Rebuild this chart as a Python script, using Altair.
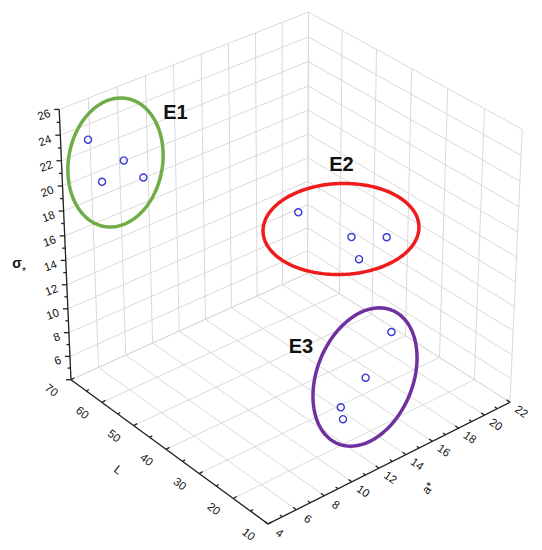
import numpy as np
import pandas as pd
import altair as alt

# ---------------- data ----------------
groups = ["E1"] * 4 + ["E2"] * 4 + ["E3"] * 4
L_val = [65, 60, 62, 55, 50, 40, 35, 30, 25, 22, 20, 18]
a_val = [4.8, 6.1, 5.0, 6.3, 16.2, 17.65, 19.0, 15.6, 16.8, 14.1, 11.75, 11.4]
s_val = [24.1, 22.7, 21.2, 22.1, 15.5, 14.5, 14.7, 15.45, 9.8, 8.0, 7.2, 6.8]

L_ticks = [10, 20, 30, 40, 50, 60, 70]
a_ticks = [4, 6, 8, 10, 12, 14, 16, 18, 20, 22]
s_ticks = [6, 8, 10, 12, 14, 16, 18, 20, 22, 24, 26]
L_range = (10, 70)
a_range = (4, 22)
s_range = (4, 26)

group_names = ["E1", "E2", "E3"]
group_colors = ["#70ad47", "#ee1c1c", "#7030a0"]

# ---------------- view (perspective camera calibrated on the box frame) ----------------
# box corners in (L, a*, sigma) -> page pixel
frame = [
    ((70, 4, 4), (71, 380)),
    ((10, 4, 4), (268, 524)),
    ((10, 22, 4), (510, 402)),
    ((70, 4, 26), (60, 109)),
    ((10, 22, 26), (523, 130)),
    ((70, 22, 26), (309, 12)),
]
# grid crossings seen along the two top edges (x only; y lies on the edge)
left_top_x = {6: 88, 8: 117, 10: 145, 12: 173, 14: 202, 16: 228, 18: 255, 20: 282}
right_top_x = {60: 343, 50: 376, 40: 412, 30: 447, 20: 484}


def norm(L, a, s):
    return ((L - L_range[0]) / (L_range[1] - L_range[0]),
            (a - a_range[0]) / (a_range[1] - a_range[0]),
            (s - s_range[0]) / (s_range[1] - s_range[0]))


anchors = list(frame)
(x0, y0), (x1, y1) = (60, 109), (309, 12)
for a, x in left_top_x.items():
    anchors.append(((70, a, 26), (x, y0 + (y1 - y0) * (x - x0) / (x1 - x0))))
(x0, y0), (x1, y1) = (309, 12), (523, 130)
for L, x in right_top_x.items():
    anchors.append(((L, 22, 26), (x, y0 + (y1 - y0) * (x - x0) / (x1 - x0))))

C = 270.0
rows = []
for (L, a, s), (px, py) in anchors:
    X, Y, Z = norm(L, a, s)
    u, v = (px - C) / C, (py - C) / C
    rows.append([X, Y, Z, 1, 0, 0, 0, 0, -u * X, -u * Y, -u * Z, -u])
    rows.append([0, 0, 0, 0, X, Y, Z, 1, -v * X, -v * Y, -v * Z, -v])
_, _, vt = np.linalg.svd(np.array(rows, dtype=float))
P = vt[-1].reshape(3, 4)


def proj(L, a, s):
    X, Y, Z = norm(L, a, s)
    h = P @ np.array([X, Y, Z, 1.0])
    return h[0] / h[2] * C + C, h[1] / h[2] * C + C


# ---------------- build tables ----------------
def seg_rows(lst, p, q, sid):
    for k, pt in enumerate((p, q)):
        x, y = proj(*pt)
        lst.append({"x": x, "y": y, "id": sid, "k": k})


grid = []
sid = 0
for a in a_ticks:  # floor, constant a*
    seg_rows(grid, (10, a, 4), (70, a, 4), sid); sid += 1
for L in L_ticks:  # floor, constant L
    seg_rows(grid, (L, 4, 4), (L, 22, 4), sid); sid += 1
for a in a_ticks:  # left wall verticals (L = 70)
    seg_rows(grid, (70, a, 4), (70, a, 26), sid); sid += 1
for s in [4] + s_ticks:  # left wall horizontals
    seg_rows(grid, (70, 4, s), (70, 22, s), sid); sid += 1
for L in L_ticks:  # right wall verticals (a* = 22)
    seg_rows(grid, (L, 22, 4), (L, 22, 26), sid); sid += 1
for s in [4] + s_ticks:  # right wall horizontals
    seg_rows(grid, (10, 22, s), (70, 22, s), sid); sid += 1
grid_df = pd.DataFrame(grid)

axes = []
sid = 0
seg_rows(axes, (70, 4, 4), (70, 4, 26), sid); sid += 1
seg_rows(axes, (70, 4, 4), (10, 4, 4), sid); sid += 1
seg_rows(axes, (10, 4, 4), (10, 22, 4), sid); sid += 1


def tick(lst, pt, dx, dy, sid):
    x, y = proj(*pt)
    lst.append({"x": x, "y": y, "id": sid, "k": 0})
    lst.append({"x": x + dx, "y": y + dy, "id": sid, "k": 1})


for s in range(4, 27):
    ln = 5 if s % 2 == 0 else 3
    tick(axes, (70, 4, s), -ln, 0, sid); sid += 1
for L in range(10, 71, 5):
    ln = 4 if L % 10 == 0 else 3
    tick(axes, (L, 4, 4), ln * 0.85, -ln * 0.5, sid); sid += 1
for a in range(4, 23):
    ln = 4 if a % 2 == 0 else 3
    tick(axes, (10, a, 4), -ln * 0.8, -ln * 0.6, sid); sid += 1
axes_df = pd.DataFrame(axes)

s_lab = pd.DataFrame([{"x": proj(70, 4, s)[0] - 9, "y": proj(70, 4, s)[1] + 4, "t": str(s)} for s in s_ticks])
L_lab = pd.DataFrame([{"x": proj(L, 4, 4)[0] - 20, "y": proj(L, 4, 4)[1] + 11, "t": str(L)} for L in L_ticks])
a_lab = pd.DataFrame([{"x": proj(10, a, 4)[0] + 11, "y": proj(10, a, 4)[1] + 10, "t": str(a)} for a in a_ticks])

pts = pd.DataFrame({"g": groups, "L": L_val, "a": a_val, "s": s_val})
pxy = [proj(L, a, s) for L, a, s in zip(L_val, a_val, s_val)]
pts["x"] = [p[0] for p in pxy]
pts["y"] = [p[1] for p in pxy]

# group ellipses (annotation outlines, page px): centre, semi-axes, tilt
ell_spec = {
    "E1": (115.5, 162.5, 65, 47, 80),
    "E2": (341, 229, 78, 45.5, 2),
    "E3": (365, 377, 72, 48, 68),
}
ell = []
for g, (cx, cy, ra, rb, phi) in ell_spec.items():
    ph = np.radians(phi)
    for k, t in enumerate(np.linspace(0, 2 * np.pi, 121)):
        ex = ra * np.cos(t) * np.cos(ph) - rb * np.sin(t) * np.sin(ph)
        ey = ra * np.cos(t) * np.sin(ph) + rb * np.sin(t) * np.cos(ph)
        ell.append({"x": cx + ex, "y": cy - ey, "g": g, "k": k})
ell_df = pd.DataFrame(ell)

glab = pd.DataFrame({"x": [175.5, 341.5, 301], "y": [113, 165, 347], "t": group_names})
titles_df = pd.DataFrame({"x": [118, 428], "y": [470, 488], "t": ["L", "a*"]})

# ---------------- chart ----------------
X = alt.X("x:Q", scale=alt.Scale(domain=[8, 534], nice=False, zero=False), axis=None)
Y = alt.Y("y:Q", scale=alt.Scale(domain=[8, 542], nice=False, zero=False, reverse=True), axis=None)
FONT = "Liberation Sans"
INK = "#111111"

grid_l = alt.Chart(grid_df).mark_line(color="#d9d9d9", strokeWidth=1).encode(
    x=X, y=Y, detail="id:N", order="k:Q")
axes_l = alt.Chart(axes_df).mark_line(color="#222222", strokeWidth=1.3).encode(
    x=X, y=Y, detail="id:N", order="k:Q")
s_txt = alt.Chart(s_lab).mark_text(font=FONT, fontSize=11.5, angle=340, align="right",
                                   baseline="middle", color=INK).encode(x=X, y=Y, text="t:N")
L_txt = alt.Chart(L_lab).mark_text(font=FONT, fontSize=11.5, angle=38, align="center",
                                   baseline="middle", color=INK).encode(x=X, y=Y, text="t:N")
a_txt = alt.Chart(a_lab).mark_text(font=FONT, fontSize=11.5, angle=35, align="center",
                                   baseline="middle", color=INK).encode(x=X, y=Y, text="t:N")
L_title = alt.Chart(titles_df.iloc[[0]]).mark_text(font=FONT, fontSize=12, angle=38,
                                                   color=INK).encode(x=X, y=Y, text="t:N")
a_title = alt.Chart(titles_df.iloc[[1]]).mark_text(font=FONT, fontSize=12, angle=310,
                                                   color=INK).encode(x=X, y=Y, text="t:N")
sig_title = alt.Chart(pd.DataFrame({"x": [17], "y": [264], "t": ["σ"]})).mark_text(
    font=FONT, fontSize=14, fontWeight="bold", color=INK).encode(x=X, y=Y, text="t:N")
sig_star = alt.Chart(pd.DataFrame({"x": [24], "y": [272], "t": ["*"]})).mark_text(
    font=FONT, fontSize=10, color=INK).encode(x=X, y=Y, text="t:N")

ell_l = alt.Chart(ell_df).mark_line(strokeWidth=3.5).encode(
    x=X, y=Y, detail="g:N", order="k:Q",
    color=alt.Color("g:N", scale=alt.Scale(domain=group_names, range=group_colors), legend=None))
pts_l = alt.Chart(pts).mark_point(shape="circle", filled=False, size=50, strokeWidth=1.4,
                                  color="#3c3cd4", opacity=1).encode(x=X, y=Y)
glab_l = alt.Chart(glab).mark_text(font=FONT, fontSize=20, fontWeight="bold",
                                   color="#111").encode(x=X, y=Y, text="t:N")

chart = alt.layer(grid_l, axes_l, s_txt, L_txt, a_txt, L_title, a_title, sig_title, sig_star,
                  ell_l, pts_l, glab_l).properties(
    width=526, height=534, padding=0, background="white"
).configure_view(stroke=None)

chart.save("out.html", embed_options={"renderer": "svg", "actions": False})
